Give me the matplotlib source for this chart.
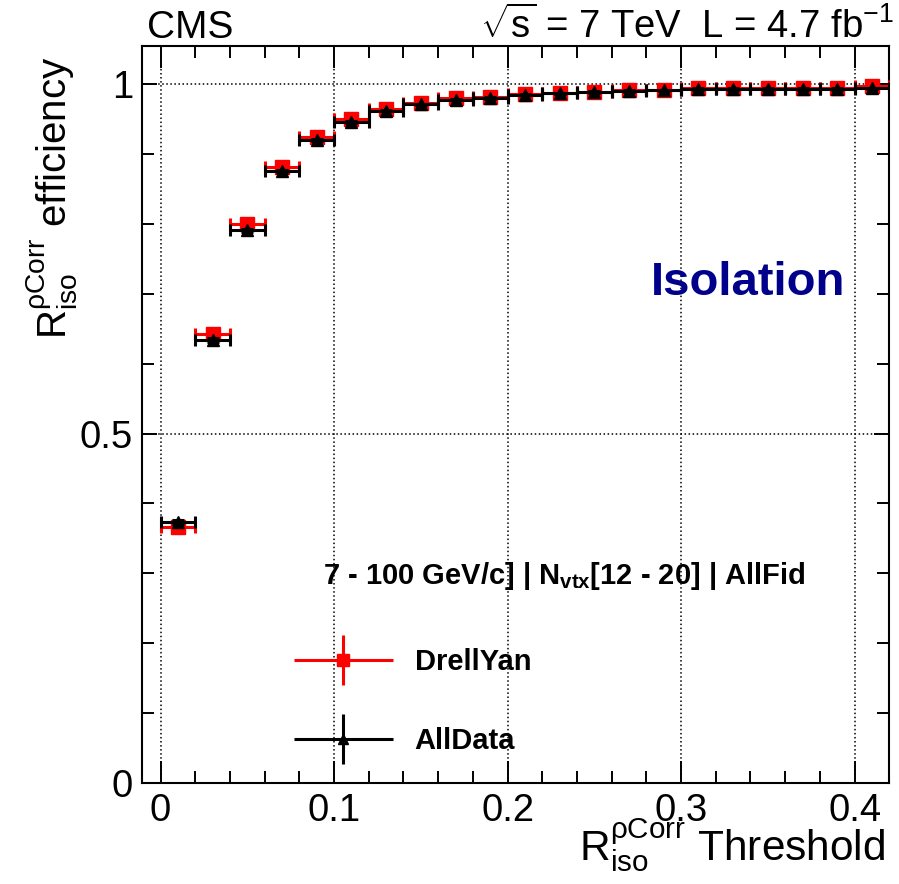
import numpy as np
import matplotlib
matplotlib.use("Agg")
import matplotlib.pyplot as plt
from matplotlib.legend_handler import HandlerErrorbar

plt.rcParams['font.family'] = ['Liberation Sans', 'DejaVu Sans']
plt.rcParams['mathtext.fontset'] = 'custom'
plt.rcParams['mathtext.rm'] = 'Liberation Sans'
plt.rcParams['mathtext.it'] = 'Liberation Sans'
plt.rcParams['mathtext.bf'] = 'Liberation Sans:bold'

# isolation threshold bins (centre and half width)
thr = [0.01, 0.03, 0.05, 0.07, 0.09, 0.11, 0.13, 0.15, 0.17, 0.19, 0.21,
       0.23, 0.25, 0.27, 0.29, 0.31, 0.33, 0.35, 0.37, 0.39, 0.41]
thr_err = [0.01] * len(thr)

# efficiencies
eff_dy = [0.366, 0.643, 0.800, 0.882, 0.925, 0.950, 0.965, 0.973, 0.980, 0.982, 0.986,
          0.988, 0.989, 0.991, 0.992, 0.994, 0.994, 0.994, 0.994, 0.994, 0.997]
eff_dy_err = [0.004, 0.004, 0.003, 0.003, 0.002, 0.002, 0.002, 0.002, 0.001, 0.001, 0.001,
              0.001, 0.001, 0.001, 0.001, 0.001, 0.001, 0.001, 0.001, 0.001, 0.001]
eff_data = [0.374, 0.634, 0.791, 0.875, 0.920, 0.946, 0.962, 0.971, 0.978, 0.980, 0.985,
            0.987, 0.989, 0.990, 0.991, 0.993, 0.993, 0.993, 0.993, 0.993, 0.994]
eff_data_err = [0.003, 0.003, 0.002, 0.002, 0.002, 0.001, 0.001, 0.001, 0.001, 0.001, 0.001,
                0.001, 0.001, 0.001, 0.001, 0.001, 0.001, 0.001, 0.001, 0.001, 0.001]

fig = plt.figure(figsize=(8.99, 8.84), dpi=100)
ax = fig.add_axes([0.158, 0.1143, 0.831, 0.834])

ax.errorbar(thr, eff_dy, xerr=thr_err, yerr=eff_dy_err, fmt='s', color='red',
            ms=10, lw=2.2, capsize=4.3, capthick=2.2, zorder=3)
ax.errorbar(thr, eff_data, xerr=thr_err, yerr=eff_data_err, fmt='^', color='black',
            ms=8, lw=2.2, capsize=4.3, capthick=2.2, zorder=4)

ax.set_xlim(-0.0107, 0.4199)
ax.set_ylim(0, 1.055)
ax.set_xticks([0, 0.1, 0.2, 0.3, 0.4])
ax.set_xticklabels(['0', '0.1', '0.2', '0.3', '0.4'])
ax.set_xticks(np.arange(0, 0.42, 0.02), minor=True)
ax.set_yticks([0, 0.5, 1])
ax.set_yticklabels(['0', '0.5', '1'])
ax.set_yticks(np.arange(0, 1.05, 0.1), minor=True)
ax.grid(True, which='major', color='black', linestyle=':', linewidth=1.1)
ax.set_axisbelow(True)

ax.tick_params(axis='both', which='both', direction='in', top=True, right=True,
               labelsize=27.5, width=1.4)
ax.tick_params(axis='x', which='major', length=16, pad=7)
ax.tick_params(axis='x', which='minor', length=8.5)
ax.tick_params(axis='y', which='major', length=11, pad=6.5)
ax.tick_params(axis='y', which='minor', length=8.5)
for sp in ax.spines.values():
    sp.set_linewidth(1.5)

ax.set_xlabel(r'$\mathrm{R}_{\mathrm{iso}}^{\rho\mathrm{Corr}}$ Threshold', fontsize=30.5, loc='right')
ax.xaxis.set_label_coords(0.995, -0.046)
ax.set_ylabel(r'$\mathrm{R}_{\mathrm{iso}}^{\rho\mathrm{Corr}}$ efficiency', fontsize=29, loc='top')
ax.yaxis.set_label_coords(-0.083, 0.985)

ax.text(0.941, 0.662, 'Isolation', transform=ax.transAxes, ha='right', va='baseline',
        fontsize=34, fontweight='bold', color='#00008b')

ax.text(0.242, 0.281, r'7 - 100 GeV/c] | N$_{\mathbf{vtx}}$[12 - 20] | AllFid',
        transform=ax.transAxes, ha='left', va='center', fontsize=21, fontweight='bold')

h_dy = ax.errorbar([np.nan], [np.nan], xerr=[0.01], yerr=[0.01], fmt='s', color='red',
                   ms=9, lw=2.2, capsize=0)
h_data = ax.errorbar([np.nan], [np.nan], xerr=[0.01], yerr=[0.01], fmt='^', color='black',
                     ms=7, lw=2.2, capsize=0)
ax.legend([h_dy, h_data], ['DrellYan', 'AllData'], loc='center left',
          bbox_to_anchor=(0.203, 0.110), frameon=False, borderpad=0, borderaxespad=0,
          handlelength=3.4, handletextpad=0.75, labelspacing=1.75,
          prop={'weight': 'bold', 'size': 21},
          handler_map={type(h_dy): HandlerErrorbar(xerr_size=1.7, yerr_size=0.85)})

fig.text(0.164, 0.957, 'CMS', fontsize=28, ha='left', va='baseline')
fig.text(0.994, 0.957, r'$\sqrt{s}$ = 7 TeV  L = 4.7 fb$^{-1}$', fontsize=27.5,
         ha='right', va='baseline')

fig.savefig('out.png', dpi=100)
